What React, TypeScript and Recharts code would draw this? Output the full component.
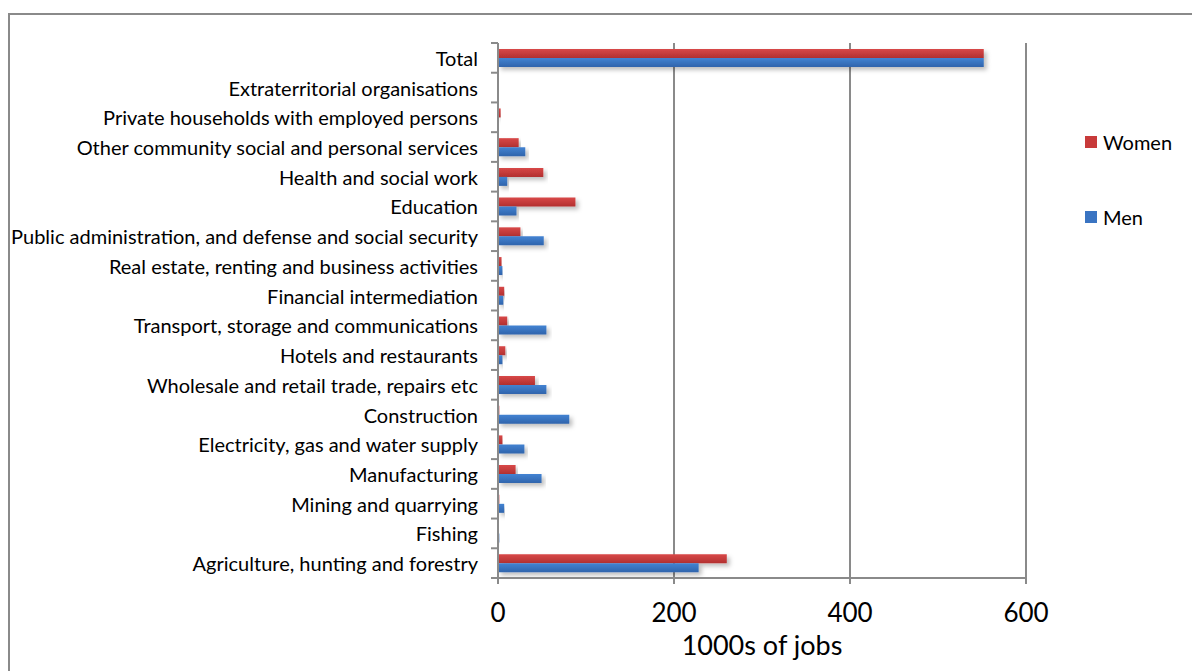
import { BarChart, Bar, XAxis, YAxis, CartesianGrid } from 'recharts';

const categories = [
  'Total',
  'Extraterritorial organisations',
  'Private households with employed persons',
  'Other community social and personal services',
  'Health and social work',
  'Education',
  'Public administration, and defense and social security',
  'Real estate, renting and business activities',
  'Financial intermediation',
  'Transport, storage and communications',
  'Hotels and restaurants',
  'Wholesale and retail trade, repairs etc',
  'Construction',
  'Electricity, gas and water supply',
  'Manufacturing',
  'Mining and quarrying',
  'Fishing',
  'Agriculture, hunting and forestry',
];

const women = [552, 0, 3, 23.5, 51.5, 88, 25.5, 4, 7, 10.5, 8.3, 42, 1.5, 5, 20, 1.5, 0, 260];
const men = [552, 0, 0, 31, 10.5, 21, 52, 5, 6, 55, 5, 55, 81, 30, 49.5, 7, 1.5, 228];

const xTicks = [0, 200, 400, 600];

const data = categories.map((name, i) => ({ name, Women: women[i], Men: men[i] }));

const FONT = 'Lato, "Open Sans", sans-serif';
const GRID = '#8a8a8a';
const BAND = (578 - 43) / categories.length;

// Excel-style: tick marks sit on the band edges, labels in the middle
function CategoryTick(props: any) {
  const { x, y, payload, index } = props;
  const axisX = x + 20;
  return (
    <g>
      <line x1={axisX - 7} x2={axisX} y1={y - BAND / 2} y2={y - BAND / 2} stroke={GRID} strokeWidth={2} />
      {index === categories.length - 1 && (
        <line x1={axisX - 7} x2={axisX} y1={y + BAND / 2} y2={y + BAND / 2} stroke={GRID} strokeWidth={2} />
      )}
      <text x={x} y={y} textAnchor="end" dominantBaseline="central" fontSize={20} fill="#000" fontFamily={FONT}>
        {payload.value}
      </text>
    </g>
  );
}

const legendItems = [
  { name: 'Women', color: '#c83a3a', top: 130 },
  { name: 'Men', color: '#3a74c2', top: 205 },
];

export default function App() {
  return (
    <div style={{ position: 'absolute', left: 0, top: 0, width: 1192, height: 671, overflow: 'hidden', background: '#fff' }}>
      <div style={{ position: 'absolute', left: 8, top: 13, width: 1200, height: 700, border: '2px solid #8a8a8a' }} />
      <div style={{ position: 'absolute', left: 0, top: 0 }}>
        <BarChart
          width={1192}
          height={671}
          data={data}
          layout="vertical"
          margin={{ top: 43, right: 166, bottom: 63, left: 0 }}
          barSize={9}
          barGap={0}
        >
          <defs>
            <linearGradient id="gWomen" x1="0" y1="0" x2="0" y2="1">
              <stop offset="0%" stopColor="#d84848" />
              <stop offset="100%" stopColor="#b23030" />
            </linearGradient>
            <linearGradient id="gMen" x1="0" y1="0" x2="0" y2="1">
              <stop offset="0%" stopColor="#4383d2" />
              <stop offset="100%" stopColor="#2f64ac" />
            </linearGradient>
            <filter id="shadow" x="-5%" y="-50%" width="115%" height="250%">
              <feDropShadow dx="3" dy="3" stdDeviation="2" floodColor="#000" floodOpacity="0.25" />
            </filter>
          </defs>
          <CartesianGrid horizontal={false} vertical stroke={GRID} strokeWidth={2} />
          <XAxis
            type="number"
            domain={[0, 600]}
            ticks={xTicks}
            stroke={GRID}
            strokeWidth={2}
            tickSize={6}
            tickMargin={20}
            tick={{ fontSize: 26, fill: '#000', fontFamily: FONT }}
            label={{ value: '1000s of jobs', position: 'bottom', offset: 28, fontSize: 27, fill: '#000', fontFamily: FONT }}
          />
          <YAxis
            type="category"
            dataKey="name"
            width={498}
            stroke={GRID}
            strokeWidth={2}
            tickLine={false}
            tick={<CategoryTick />}
            tickMargin={14}
            interval={0}
          />
          <Bar dataKey="Women" fill="url(#gWomen)" filter="url(#shadow)" isAnimationActive={false} />
          <Bar dataKey="Men" fill="url(#gMen)" filter="url(#shadow)" isAnimationActive={false} />
        </BarChart>
      </div>
      {legendItems.map((it) => (
        <div
          key={it.name}
          style={{ position: 'absolute', left: 1085, top: it.top, display: 'flex', alignItems: 'center', fontFamily: FONT, fontSize: 20 }}
        >
          <span style={{ display: 'inline-block', width: 12, height: 12, background: it.color, marginRight: 6 }} />
          <span>{it.name}</span>
        </div>
      ))}
    </div>
  );
}
